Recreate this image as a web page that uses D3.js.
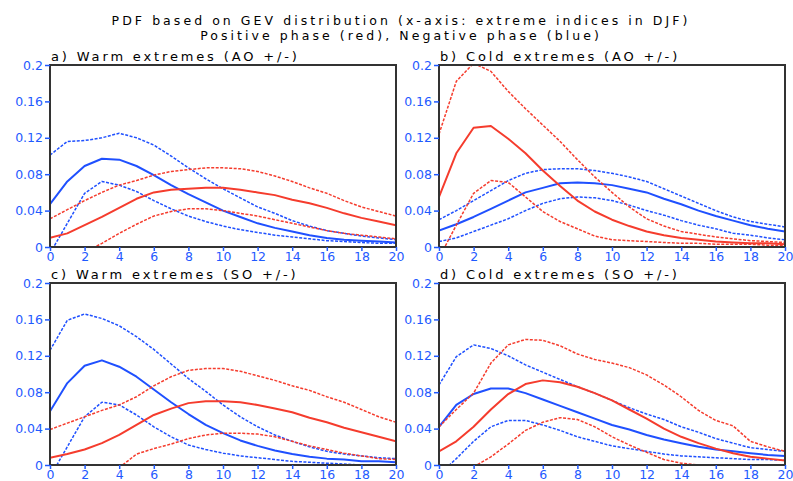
<!DOCTYPE html>
<html lang="en">
<head>
<meta charset="UTF-8">
<title>GEV PDF panels</title>
<script src="https://cdn.jsdelivr.net/npm/d3@7"></script>
<style>
    body { margin: 0; background: #fff; }
    text { font-family: "DejaVu Sans", sans-serif; }
    .title { font-size: 13px; letter-spacing: 2.85px; fill: #000; }
    .main { font-size: 12.5px; letter-spacing: 3.05px; }
    .axis text { font-size: 12.5px; fill: #1f5aff; }
    .axis line { stroke: #1f5aff; stroke-width: 1.5; }
    .axis path { display: none; }
    .box { fill: none; stroke: #333; stroke-width: 2; }
</style>
</head>
<body>
<div id="chart"></div>
<script>
// x values (extreme index) and ticks
const xValues = [0, 1, 2, 3, 4, 5, 6, 7, 8, 9, 10, 11, 12, 13, 14, 15, 16, 17, 18, 19, 20];
const xTicks = [0, 2, 4, 6, 8, 10, 12, 14, 16, 18, 20];
const yTicks = [0, 0.04, 0.08, 0.12, 0.16, 0.2];

const titleLines = ["PDF based on GEV distribution (x-axis: extreme indices in DJF)",
    "Positive phase (red), Negative phase (blue)"];
const panelTitles = ["a) Warm extremes (AO +/-)", "b) Cold extremes (AO +/-)",
    "c) Warm extremes (SO +/-)", "d) Cold extremes (SO +/-)"];

// a) warm, AO
const aRedHi  = [0.031,0.041,0.051,0.060,0.068,0.073,0.079,0.083,0.085,0.087,0.087,0.086,0.083,0.078,0.072,0.065,0.059,0.051,0.044,0.039,0.034];
const aRedMid = [0.010,0.015,0.024,0.033,0.043,0.053,0.060,0.063,0.064,0.065,0.065,0.063,0.060,0.057,0.052,0.048,0.043,0.037,0.032,0.028,0.024];
const aRedLo  = [null,null,-0.006,0.004,0.015,0.025,0.034,0.039,0.042,0.042,0.040,0.037,0.034,0.030,0.026,0.022,0.018,0.015,0.013,0.011,0.009];
const aBlueHi  = [0.101,0.116,0.117,0.120,0.125,0.120,0.112,0.100,0.087,0.075,0.064,0.054,0.044,0.037,0.029,0.023,0.018,0.015,0.012,0.010,0.008];
const aBlueMid = [0.047,0.072,0.089,0.097,0.096,0.089,0.079,0.068,0.058,0.049,0.040,0.033,0.026,0.021,0.017,0.013,0.010,0.008,0.007,0.006,0.005];
const aBlueLo  = [-0.007,0.026,0.059,0.072,0.068,0.061,0.051,0.042,0.034,0.028,0.023,0.019,0.016,0.013,0.011,0.009,0.007,0.006,0.005,0.004,0.004];

// b) cold, AO
const bRedHi  = [0.124,0.182,0.202,0.193,0.171,0.152,0.134,0.116,0.096,0.077,0.060,0.044,0.031,0.023,0.017,0.014,0.011,0.009,0.007,0.006,0.005];
const bRedMid = [0.055,0.103,0.131,0.133,0.119,0.103,0.084,0.067,0.051,0.039,0.030,0.023,0.017,0.013,0.010,0.008,0.006,0.005,0.004,0.004,0.003];
const bRedLo  = [-0.012,0.024,0.059,0.073,0.071,0.055,0.039,0.028,0.020,0.012,0.008,0.007,0.006,0.005,0.004,0.004,0.003,0.003,0.003,0.002,0.002];
const bBlueHi  = [0.030,0.040,0.051,0.062,0.073,0.081,0.085,0.086,0.086,0.084,0.081,0.077,0.072,0.064,0.056,0.048,0.040,0.033,0.028,0.025,0.022];
const bBlueMid = [0.018,0.025,0.033,0.042,0.051,0.060,0.065,0.070,0.071,0.070,0.068,0.064,0.060,0.053,0.047,0.040,0.034,0.029,0.024,0.020,0.017];
const bBlueLo  = [0.006,0.010,0.017,0.024,0.031,0.040,0.048,0.053,0.055,0.054,0.051,0.046,0.040,0.035,0.029,0.024,0.020,0.015,0.013,0.010,0.008];

// c) warm, SO
const cRedHi  = [0.039,0.046,0.053,0.060,0.066,0.075,0.087,0.097,0.104,0.106,0.106,0.103,0.098,0.093,0.087,0.082,0.075,0.069,0.061,0.053,0.047];
const cRedMid = [0.008,0.012,0.017,0.024,0.033,0.044,0.055,0.062,0.068,0.070,0.070,0.069,0.066,0.062,0.058,0.052,0.047,0.041,0.036,0.031,0.026];
const cRedLo  = [null,null,null,null,-0.003,0.012,0.018,0.023,0.029,0.033,0.035,0.035,0.034,0.031,0.026,0.021,0.017,0.013,0.010,0.007,0.006];
const cBlueHi  = [0.126,0.159,0.166,0.161,0.153,0.141,0.127,0.111,0.095,0.081,0.066,0.053,0.042,0.033,0.026,0.020,0.015,0.012,0.010,0.008,0.007];
const cBlueMid = [0.059,0.090,0.109,0.115,0.108,0.097,0.083,0.069,0.056,0.044,0.035,0.027,0.021,0.016,0.012,0.009,0.007,0.006,0.004,0.004,0.003];
const cBlueLo  = [-0.013,0.020,0.053,0.069,0.066,0.055,0.042,0.031,0.022,0.017,0.013,0.010,0.008,0.006,0.004,0.003,0.002,0.001,0.000,-0.001,-0.001];

// d) cold, SO
const dRedHi  = [0.042,0.061,0.079,0.112,0.132,0.138,0.137,0.131,0.122,0.116,0.112,0.107,0.099,0.088,0.075,0.060,0.049,0.043,0.026,0.020,0.015];
const dRedMid = [0.015,0.026,0.042,0.061,0.078,0.089,0.093,0.091,0.086,0.079,0.071,0.061,0.051,0.040,0.031,0.024,0.018,0.013,0.009,0.007,0.005];
const dRedLo  = [null,null,-0.002,0.009,0.023,0.038,0.047,0.052,0.050,0.042,0.031,0.022,0.014,0.006,0.002,0.000,-0.001,-0.002,-0.002,-0.002,-0.002];
const dBlueHi  = [0.088,0.119,0.132,0.128,0.120,0.110,0.102,0.094,0.086,0.079,0.071,0.063,0.056,0.050,0.042,0.036,0.029,0.024,0.019,0.017,0.015];
const dBlueMid = [0.042,0.066,0.078,0.084,0.084,0.079,0.072,0.065,0.058,0.051,0.044,0.039,0.033,0.028,0.024,0.020,0.017,0.015,0.013,0.011,0.010];
const dBlueLo  = [-0.011,0.007,0.026,0.042,0.049,0.049,0.044,0.038,0.031,0.026,0.021,0.018,0.015,0.012,0.010,0.009,0.008,0.007,0.006,0.006,0.005];

const RED = "#f53c2d", BLUE = "#1f50ff";

const panels = [
    {title: panelTitles[0], left: 50, top: 65, lines: [aBlueHi, aBlueMid, aBlueLo, aRedHi, aRedMid, aRedLo]},
    {title: panelTitles[1], left: 439, top: 65, lines: [bBlueHi, bBlueMid, bBlueLo, bRedHi, bRedMid, bRedLo]},
    {title: panelTitles[2], left: 50, top: 283, lines: [cBlueHi, cBlueMid, cBlueLo, cRedHi, cRedMid, cRedLo]},
    {title: panelTitles[3], left: 439, top: 283, lines: [dBlueHi, dBlueMid, dBlueLo, dRedHi, dRedMid, dRedLo]}
];
// order inside lines: blue hi/mid/lo, red hi/mid/lo
const lineColors = [BLUE, BLUE, BLUE, RED, RED, RED];
const lineDashed = [true, false, true, true, false, true];

const W = 793, H = 481;
const pw = 346, ph = 182;

const svg = d3.select("#chart").append("svg")
    .attr("width", W)
    .attr("height", H);

svg.selectAll("text.title-line")
    .data(titleLines)
    .enter()
    .append("text")
    .attr("class", "title main")
    .attr("x", 401)
    .attr("y", (d, i) => 25 + i * 14.5)
    .attr("text-anchor", "middle")
    .text(d => d);

let x = d3.scaleLinear().domain([0, 20]).range([0, pw]);
let y = d3.scaleLinear().domain([0, 0.2]).range([ph, 0]);

panels.forEach(function (p, k) {
    let g = svg.append("g")
        .attr("transform", "translate(" + p.left + "," + p.top + ")");

    g.append("defs").append("clipPath")
        .attr("id", "clip" + k)
        .append("rect")
        .attr("width", pw)
        .attr("height", ph);

    let line = d3.line()
        .defined(d => d[1] !== null)
        .x(d => x(d[0]))
        .y(d => y(d[1]));

    let lg = g.append("g").attr("clip-path", "url(#clip" + k + ")");
    p.lines.forEach(function (vals, j) {
        lg.append("path")
            .attr("d", line(xValues.map((v, i) => [v, vals[i]])))
            .attr("fill", "none")
            .attr("stroke", lineColors[j])
            .attr("stroke-width", lineDashed[j] ? 1.5 : 2)
            .attr("stroke-dasharray", lineDashed[j] ? "3,1.5" : null)
            .attr("stroke-linejoin", "round");
    });

    g.append("rect")
        .attr("class", "box")
        .attr("width", pw)
        .attr("height", ph);

    g.append("g")
        .attr("class", "axis")
        .call(d3.axisLeft(y).tickValues(yTicks).tickSize(5).tickPadding(2).tickFormat(d => String(d)));

    g.append("g")
        .attr("class", "axis")
        .attr("transform", "translate(0," + ph + ")")
        .call(d3.axisBottom(x).tickValues(xTicks).tickSize(4).tickPadding(1.5));

    g.append("text")
        .attr("class", "title")
        .attr("x", 1)
        .attr("y", -4)
        .text(p.title);
});
</script>
</body>
</html>
